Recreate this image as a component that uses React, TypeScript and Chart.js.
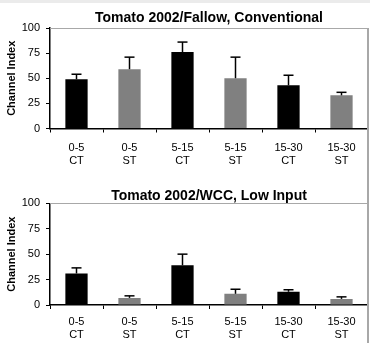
import React, { useEffect, useRef } from "react";
import { Chart, registerables } from "chart.js";

Chart.register(...registerables);

const FONT = '"Liberation Sans", Arial, Helvetica, sans-serif';

// Data
const depths = ["0-5", "0-5", "5-15", "5-15", "15-30", "15-30"];
const treatments = ["CT", "ST", "CT", "ST", "CT", "ST"];
const yTicks = [0, 25, 50, 75, 100];

const fallowTitle = "Tomato 2002/Fallow, Conventional";
const fallowValues = [49, 59, 76, 50, 43, 33];
const fallowUpper = [54, 71, 86, 71, 53, 36];

const wccTitle = "Tomato 2002/WCC, Low Input";
const wccValues = [31, 7, 39, 11, 13, 6];
const wccUpper = [36.5, 9, 50, 15.5, 15, 8];

const treatmentColor: Record<string, string> = { CT: "#000000", ST: "#808080" };

const errorBarPlugin = {
  id: "errorBars",
  afterDatasetsDraw(chart: any, _args: any, opts: any) {
    const meta = chart.getDatasetMeta(0);
    const yScale = chart.scales.y;
    const ctx = chart.ctx;
    ctx.save();
    ctx.strokeStyle = "#000";
    meta.data.forEach((bar: any, i: number) => {
      const up = opts.upper?.[i];
      if (up == null) return;
      const yTop = yScale.getPixelForValue(up);
      const yBar = bar.y;
      ctx.lineWidth = 1.5;
      ctx.beginPath();
      ctx.moveTo(bar.x, yBar);
      ctx.lineTo(bar.x, yTop);
      ctx.stroke();
      ctx.beginPath();
      ctx.moveTo(bar.x - 5, yTop);
      ctx.lineTo(bar.x + 5, yTop);
      ctx.stroke();
    });
    ctx.restore();
  },
};

const frameLinePlugin = {
  id: "frameLine",
  beforeDatasetsDraw(chart: any) {
    const { ctx, chartArea } = chart;
    ctx.save();
    ctx.strokeStyle = "#a8a8a8";
    ctx.lineWidth = 1;
    ctx.beginPath();
    ctx.moveTo(chartArea.left, Math.round(chartArea.top) + 0.5);
    ctx.lineTo(chartArea.right, Math.round(chartArea.top) + 0.5);
    ctx.stroke();
    ctx.restore();
  },
};

const areaTitlePlugin = {
  id: "areaTitle",
  afterDraw(chart: any, _args: any, opts: any) {
    const { ctx, chartArea } = chart;
    ctx.save();
    ctx.fillStyle = "#000";
    ctx.font = `bold 14px ${FONT}`;
    ctx.textAlign = "center";
    ctx.textBaseline = "alphabetic";
    ctx.fillText(opts.text, (chartArea.left + chartArea.right) / 2, opts.baseline);
    ctx.restore();
  },
};

type PanelProps = {
  title: string;
  values: number[];
  upper: number[];
  height: number;
  topPad: number;
  titleBaseline: number;
  xAxisHeight: number;
  xTickPad: number;
};

function Panel(p: PanelProps) {
  const ref = useRef<HTMLCanvasElement>(null);
  useEffect(() => {
    if (!ref.current) return;
    const chart = new Chart(ref.current, {
      type: "bar",
      data: {
        labels: depths.map((d, i) => [d, treatments[i]]),
        datasets: [
          {
            data: p.values,
            backgroundColor: treatments.map((t) => treatmentColor[t]),
            borderWidth: 0,
            categoryPercentage: 1,
            barPercentage: 0.42,
          },
        ],
      },
      options: {
        responsive: false,
        animation: false,
        devicePixelRatio: 1,
        layout: { padding: { left: 0, right: 2, top: p.topPad, bottom: 0 } },
        plugins: {
          legend: { display: false },
          tooltip: { enabled: false },
          title: { display: false },
          errorBars: { upper: p.upper },
          areaTitle: { text: p.title, baseline: p.titleBaseline },
        } as any,
        scales: {
          x: {
            type: "category",
            offset: true,
            grid: {
              display: true,
              offset: true,
              drawOnChartArea: false,
              drawTicks: true,
              tickLength: 4,
              color: "#000",
            },
            border: { display: true, color: "#000", width: 1.5 },
            ticks: {
              color: "#000",
              font: { family: FONT, size: 11, lineHeight: 1.15 },
              padding: p.xTickPad,
              maxRotation: 0,
              autoSkip: false,
            },
            afterFit: (s: any) => {
              s.height = p.xAxisHeight;
            },
          },
          y: {
            min: 0,
            max: 100,
            afterBuildTicks: (s: any) => {
              s.ticks = yTicks.map((v) => ({ value: v }));
            },
            grid: {
              display: true,
              drawOnChartArea: false,
              drawTicks: true,
              tickLength: 4,
              color: "#000",
            },
            border: { display: true, color: "#000", width: 1.5 },
            ticks: {
              color: "#000",
              font: { family: FONT, size: 11 },
              padding: 6,
            },
            title: {
              display: true,
              text: "Channel Index",
              color: "#000",
              font: { family: FONT, size: 11, weight: "bold" },
              padding: { top: 5, bottom: 0 },
            },
            afterFit: (s: any) => {
              s.width = 50;
            },
          },
        },
      } as any,
      plugins: [errorBarPlugin, frameLinePlugin, areaTitlePlugin],
    });
    return () => chart.destroy();
  }, []);
  return (
    <canvas
      ref={ref}
      width={370}
      height={p.height}
      style={{ display: "block", width: 370, height: p.height }}
    />
  );
}

export default function App() {
  return (
    <div
      style={{
        position: "absolute",
        left: 0,
        top: 0,
        width: 370,
        height: 343,
        background: "#fff",
        overflow: "hidden",
      }}
    >
      <Panel
        title={fallowTitle}
        values={fallowValues}
        upper={fallowUpper}
        height={175}
        topPad={28}
        titleBaseline={21.7}
        xAxisHeight={46.5}
        xTickPad={9}
      />
      <Panel
        title={wccTitle}
        values={wccValues}
        upper={wccUpper}
        height={168}
        topPad={28.3}
        titleBaseline={25}
        xAxisHeight={38}
        xTickPad={6.7}
      />
      <div
        style={{
          position: "absolute",
          left: 0,
          top: 0,
          width: 370,
          height: 3,
          background: "#ebebeb",
        }}
      />
      <div
        style={{
          position: "absolute",
          left: 367,
          top: 28,
          width: 2,
          height: 315,
          background: "#a8a8a8",
        }}
      />
    </div>
  );
}
